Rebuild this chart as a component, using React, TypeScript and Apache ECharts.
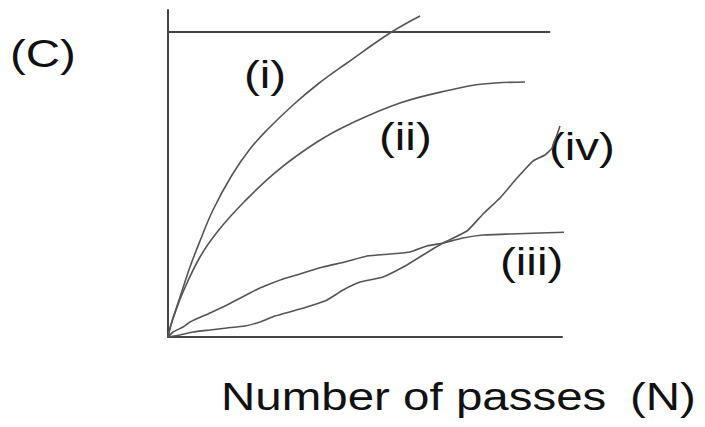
import React, { useEffect, useRef } from "react";
import * as echarts from "echarts";

// Curve data: [passes N (0-100 scale), response (0-100 scale)]
const curveI: [number, number][] = [
  [0, 0], [0.51, 2.75], [1.27, 5.81], [3.05, 12.23], [5.58, 21.41], [8.12, 29.36],
  [11.42, 38.84], [16.24, 49.54], [20.81, 57.49], [25.38, 63.61], [31.73, 70.95],
  [38.07, 77.37], [45.43, 83.79], [56.35, 92.97], [63.96, 98.17],
];
const curveII: [number, number][] = [
  [0, 0], [0.76, 3.67], [1.78, 7.34], [3.81, 13.76], [8.12, 24.46], [12.69, 32.42],
  [19.29, 41.28], [27.66, 50.76], [37.82, 59.63], [46.19, 65.14], [58.88, 71.56],
  [71.57, 75.54], [79.95, 77.37], [90.61, 77.98],
];
const curveIII: [number, number][] = [
  [0, 0], [1.27, 1.53], [3.81, 3.06], [5.58, 4.59], [10.66, 7.34], [14.97, 9.79],
  [20.81, 13.46], [23.35, 14.98], [29.19, 17.74], [33.5, 19.27], [39.34, 21.41],
  [44.92, 22.94], [50.51, 24.77], [56.35, 25.38], [61.42, 25.99], [65.74, 27.83],
  [69.8, 28.75], [74.87, 30.28], [79.95, 31.19], [86.8, 31.5], [94.42, 31.8], [103.05, 32.11],
];
const curveIV: [number, number][] = [
  [0, 0], [3.05, 0.61], [6.35, 1.53], [10.66, 2.14], [14.97, 2.75], [19.54, 3.36],
  [23.35, 4.59], [27.16, 6.42], [31.73, 7.95], [36.04, 9.48], [40.36, 11.31],
  [44.42, 14.37], [48.73, 16.82], [54.57, 18.35], [60.15, 21.71], [64.72, 25.08],
  [69.8, 28.75], [75.89, 32.42], [79.95, 37.61], [84.26, 42.51], [88.58, 48.62],
  [92.64, 53.82], [95.69, 55.66], [97.46, 57.8], [99.49, 64.53],
];
const referenceLevel: [number, number][] = [[0, 93.3], [97, 93.3]];

const panelLabel = "(C)";
const curveLabels = ["(i)", "(ii)", "(iii)", "(iv)"];
const axisTitle = "Number of passes";
const axisUnit = "(N)";

const FONT = "'Liberation Sans', Arial, sans-serif";
const TEXT_COLOR = "#111";
const LINE_COLOR = "#555";

function txt(text: string, x: number, y: number) {
  return {
    type: "text",
    x,
    y,
    scaleX: 1.25,
    scaleY: 1,
    style: {
      text,
      fontSize: 38,
      fontFamily: FONT,
      fill: TEXT_COLOR,
      align: "left",
      verticalAlign: "middle",
    },
  };
}

export default function App() {
  const ref = useRef<HTMLDivElement>(null);
  useEffect(() => {
    if (!ref.current) return;
    const chart = echarts.init(ref.current, undefined, { renderer: "svg" });
    const lineSeries = (data: [number, number][], smooth: boolean | number) => ({
      type: "line",
      data,
      smooth,
      showSymbol: false,
      clip: false,
      lineStyle: { color: LINE_COLOR, width: 1.6 },
      emphasis: { disabled: true },
    });
    chart.setOption({
      animation: false,
      backgroundColor: "#fff",
      grid: { left: 168, top: 10, width: 394, height: 327 },
      xAxis: {
        type: "value",
        min: 0,
        max: 100,
        axisLine: { show: true, onZero: false, lineStyle: { color: "#444", width: 2 } },
        axisTick: { show: false },
        axisLabel: { show: false },
        splitLine: { show: false },
      },
      yAxis: {
        type: "value",
        min: 0,
        max: 100,
        axisLine: { show: true, onZero: false, lineStyle: { color: "#444", width: 2 } },
        axisTick: { show: false },
        axisLabel: { show: false },
        splitLine: { show: false },
      },
      series: [
        { ...lineSeries(referenceLevel, false), lineStyle: { color: "#444", width: 2 } },
        lineSeries(curveI, 0.4),
        lineSeries(curveII, 0.4),
        lineSeries(curveIII, 0.15),
        lineSeries(curveIV, 0.15),
      ],
      graphic: [
        txt(panelLabel, 10, 54),
        txt(curveLabels[0], 244, 75),
        txt(curveLabels[1], 379, 137),
        txt(curveLabels[2], 500, 262),
        txt(curveLabels[3], 549, 147),
        txt(axisTitle, 221, 397),
        txt(axisUnit, 630, 397),
      ],
    });
    return () => chart.dispose();
  }, []);
  return (
    <div
      ref={ref}
      style={{ position: "fixed", left: 0, top: 0, width: 705, height: 427, background: "#fff" }}
    />
  );
}
